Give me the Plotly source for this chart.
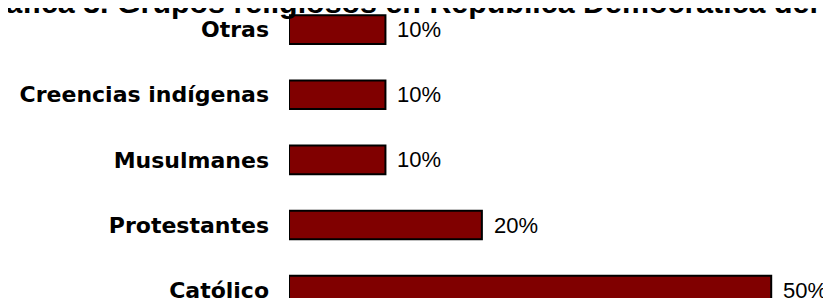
import plotly.graph_objects as go

categories = ["Católico", "Protestantes", "Musulmanes", "Creencias indígenas", "Otras"]
values = [50, 20, 10, 10, 10]
value_labels = ["50%", "20%", "10%", "10%", "10%"]
title_text = "Gráfica 3. Grupos religiosos en República Democrática del Congo"

# The page body has an 8px default margin; the figure is sized to fill the rest of the window.
fig = go.Figure()
fig.add_trace(go.Bar(
    x=values,
    y=categories,
    orientation="h",
    marker=dict(color="#800000", line=dict(color="#000000", width=2)),
    width=0.44,
    hoverinfo="skip",
))

for v, c, t in zip(values, categories, value_labels):
    fig.add_annotation(
        x=v, y=c, xref="x", yref="y", text=t, showarrow=False,
        xanchor="left", yanchor="middle", xshift=10,
        font=dict(family="Liberation Sans, Arial, sans-serif", size=22, color="#000000"),
    )

fig.add_annotation(
    x=0.289, y=0.954, xref="paper", yref="paper",
    text="<b>" + title_text + "</b>", showarrow=False,
    xanchor="center", yanchor="bottom",
    font=dict(family="Liberation Sans, Arial, sans-serif", size=30.4, color="#000000"),
)

fig.update_layout(
    width=823, height=295,
    margin=dict(l=281, r=0, t=0, b=0),
    paper_bgcolor="white", plot_bgcolor="white",
    showlegend=False,
    xaxis=dict(range=[0, 56.2], visible=False, showgrid=False, zeroline=False),
    yaxis=dict(
        type="category", categoryorder="array", categoryarray=categories,
        range=[-0.121, 4.332],
        showgrid=False, zeroline=False, showline=False,
        ticks="", ticklabelstandoff=19,
        tickfont=dict(family="DejaVu Sans, sans-serif", size=22, color="#000000", weight="bold"),
    ),
)

fig.write_html("out.html")
